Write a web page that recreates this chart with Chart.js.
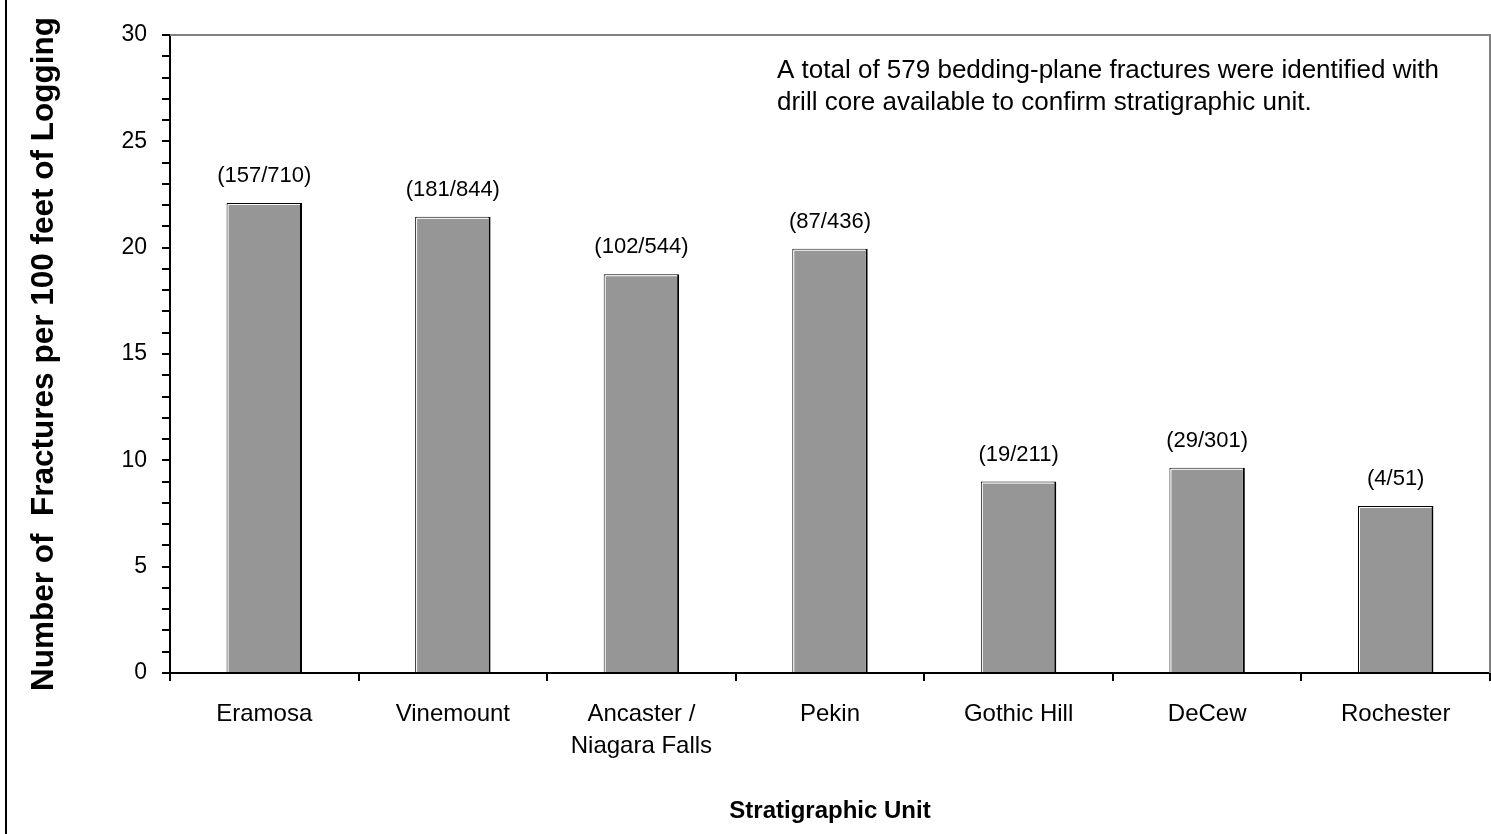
<!DOCTYPE html>
<html>
<head>
<meta charset="utf-8">
<script src="https://cdn.jsdelivr.net/npm/chart.js@4.4.0/dist/chart.umd.min.js"></script>
<style>
  html, body { margin: 0; padding: 0; background: #fff; }
  #wrap { position: relative; width: 1491px; height: 834px; }
  #edge { position: absolute; left: 5px; top: 0; width: 2px; height: 834px; background: #000; }
</style>
</head>
<body>
<div id="wrap">
  <canvas id="myChart" width="1491" height="834"></canvas>
  <div id="edge"></div>
</div>
<script>
// stratigraphic units and fracture counts
var units = ['Eramosa', 'Vinemount', ['Ancaster /', 'Niagara Falls'], 'Pekin', 'Gothic Hill', 'DeCew', 'Rochester'];
var fractures = [157, 181, 102, 87, 19, 29, 4];
var feetLogged = [710, 844, 544, 436, 211, 301, 51];
var per100ft = [22.1, 21.45, 18.75, 19.95, 9.0, 9.65, 7.85];
var noteLines = ['A total of 579 bedding-plane fractures were identified with',
                 'drill core available to confirm stratigraphic unit.'];

var FONT = '"Liberation Sans", Arial, sans-serif';

// gray frame on top and right of the plot area
var framePlugin = {
  id: 'frame',
  beforeDatasetsDraw: function (chart) {
    var a = chart.chartArea, ctx = chart.ctx;
    ctx.save();
    ctx.strokeStyle = '#808080';
    ctx.lineWidth = 2;
    ctx.beginPath();
    ctx.moveTo(a.left, a.top);
    ctx.lineTo(a.right, a.top);
    ctx.lineTo(a.right, a.bottom);
    ctx.stroke();
    ctx.restore();
  }
};

// white bevel on bars + (count/feet) labels + note text
var labelPlugin = {
  id: 'labels',
  afterDatasetsDraw: function (chart) {
    var ctx = chart.ctx;
    var meta = chart.getDatasetMeta(0);
    ctx.save();
    meta.data.forEach(function (bar, i) {
      var left = bar.x - bar.width / 2, right = bar.x + bar.width / 2;
      ctx.strokeStyle = '#fff';
      ctx.lineWidth = 1;
      ctx.beginPath();
      ctx.moveTo(left + 1.5, bar.base);
      ctx.lineTo(left + 1.5, bar.y + 1.5);
      ctx.lineTo(right - 2, bar.y + 1.5);
      ctx.stroke();

      ctx.fillStyle = '#000';
      ctx.font = '22px ' + FONT;
      ctx.textAlign = 'center';
      ctx.textBaseline = 'middle';
      ctx.fillText('(' + fractures[i] + '/' + feetLogged[i] + ')', bar.x, bar.y - 27);
    });

    ctx.font = '26px ' + FONT;
    ctx.textAlign = 'left';
    ctx.textBaseline = 'middle';
    for (var j = 0; j < noteLines.length; j++) {
      ctx.fillText(noteLines[j], chart.chartArea.left + 607, chart.chartArea.top + 36 + j * 32);
    }
    ctx.restore();
  }
};

var ctx = document.getElementById('myChart').getContext('2d');
var chart = new Chart(ctx, {
  type: 'bar',
  data: {
    labels: units,
    datasets: [{
      data: per100ft,
      backgroundColor: '#969696',
      borderColor: '#000',
      borderWidth: { left: 1, top: 1, right: 2, bottom: 0 },
      borderSkipped: false,
      categoryPercentage: 1,
      barPercentage: 0.4
    }]
  },
  options: {
    responsive: false,
    animation: false,
    layout: { padding: { top: 35, right: 1, left: 0, bottom: 0 } },
    plugins: {
      legend: { display: false },
      tooltip: { enabled: false }
    },
    scales: {
      x: {
        offset: true,
        afterFit: function (scale) { scale.height = 161; },
        grid: { offset: true, drawOnChartArea: false, tickLength: 8, color: '#000', lineWidth: 2 },
        border: { display: true, color: '#000', width: 2 },
        ticks: { color: '#000', padding: 17, maxRotation: 0, autoSkip: false,
                 font: { family: FONT, size: 24, lineHeight: 1.33 } },
        title: { display: true, text: 'Stratigraphic Unit', color: '#000',
                 padding: { top: 0, bottom: 8 },
                 font: { family: FONT, size: 24, weight: 'bold' } }
      },
      y: {
        min: 0,
        max: 30,
        afterFit: function (scale) { scale.width = 170; },
        grid: { drawOnChartArea: false, tickLength: 8, color: '#000', lineWidth: 2 },
        border: { display: true, color: '#000', width: 2 },
        ticks: {
          stepSize: 1,
          autoSkip: false,
          color: '#000',
          padding: 15,
          font: { family: FONT, size: 23 },
          callback: function (v) { return v % 5 === 0 ? v : ''; }
        },
        title: { display: true, text: 'Number of  Fractures per 100 feet of Logging', color: '#000',
                 padding: { top: 25, bottom: 0 },
                 font: { family: FONT, size: 31.5, weight: 'bold' } }
      }
    }
  },
  plugins: [framePlugin, labelPlugin]
});
</script>
</body>
</html>
